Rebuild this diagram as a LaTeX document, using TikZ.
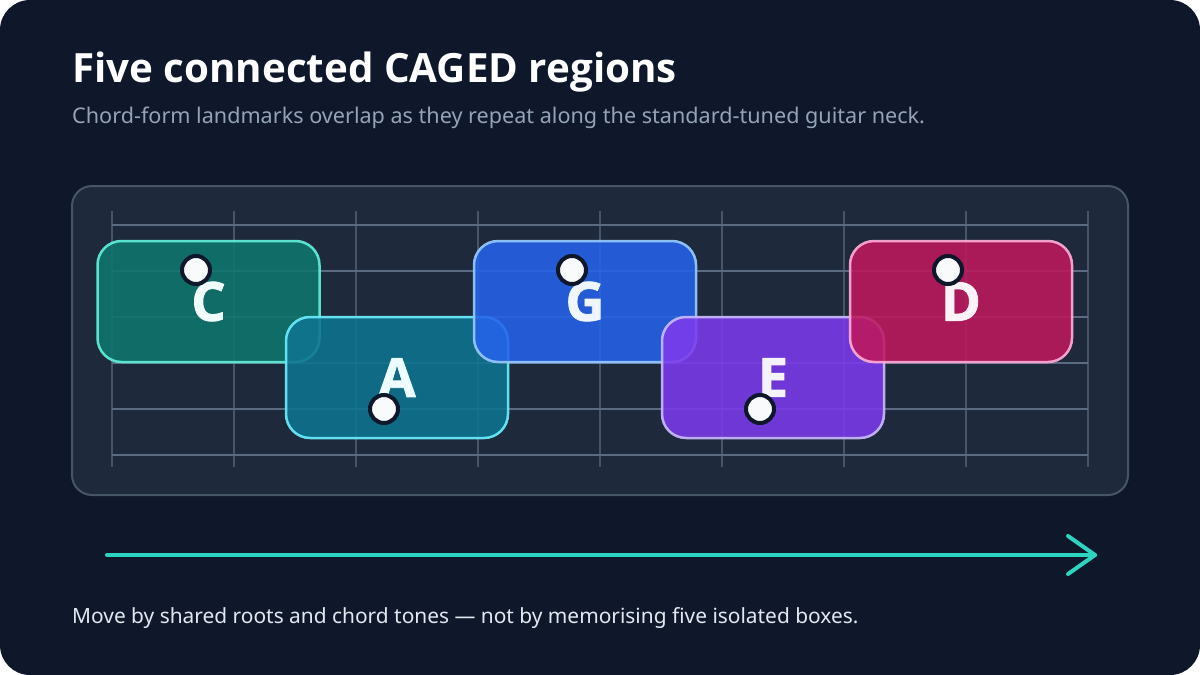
\documentclass[tikz,border=0pt]{standalone}
\usepackage{fontspec}
\setmainfont{Noto Sans}
\newfontfamily\titlefont{Open Sans}
\newfontfamily\letterfont{Open Sans}[BoldFeatures={FakeBold=1.5}]
\definecolor{bgdark}{HTML}{0F172A}
\definecolor{panelfill}{HTML}{1E293B}
\definecolor{panelline}{HTML}{475569}
\definecolor{fretcol}{HTML}{475569}
\definecolor{stringcol}{HTML}{5B6B82}
\definecolor{subcol}{HTML}{94A3B8}
\definecolor{footcol}{HTML}{E2E8F0}
\definecolor{arrowcol}{HTML}{2DD4BF}
\definecolor{dotfill}{HTML}{F8FAFC}
\definecolor{cfill}{HTML}{0F766E}\definecolor{cline}{HTML}{5EEAD4}\definecolor{ctext}{HTML}{F0FDFA}
\definecolor{afill}{HTML}{0E7490}\definecolor{aline}{HTML}{67E8F9}\definecolor{atext}{HTML}{ECFEFF}
\definecolor{gfill}{HTML}{2563EB}\definecolor{gline}{HTML}{93C5FD}\definecolor{gtext}{HTML}{EFF6FF}
\definecolor{efill}{HTML}{7C3AED}\definecolor{eline}{HTML}{C4B5FD}\definecolor{etext}{HTML}{F5F3FF}
\definecolor{dfill}{HTML}{BE185D}\definecolor{dline}{HTML}{F9A8D4}\definecolor{dtext}{HTML}{FDF2F8}
\tikzset{
  cagedbox/.style={rectangle, rounded corners=24pt, minimum width=222pt, minimum height=121pt,
    line width=2.5pt, fill opacity=0.88, draw opacity=0.95, text opacity=1, inner sep=0pt,
    font=\letterfont\fontsize{54}{60}\selectfont\bfseries},
  rootdot/.style={circle, minimum size=28pt, inner sep=0pt, fill=dotfill, draw=bgdark, line width=4pt},
  fretline/.style={draw=fretcol, line width=2pt},
  stringline/.style={draw=stringcol, line width=2.5pt},
  flowarrow/.style={draw=arrowcol, line width=4pt, line cap=round, line join=round},
}
\begin{document}
\begin{tikzpicture}[x=1pt,y=-1pt]
\useasboundingbox (0,0) rectangle (1200,675);
\fill[white] (0,0) rectangle (1200,675);
\fill[bgdark, rounded corners=30pt] (0,0) rectangle (1200,675);

% title and subtitle
\node[anchor=base west, inner sep=0pt, text=white, font=\titlefont\fontsize{40.3}{48}\selectfont\bfseries] (title) at (72,82) {Five connected CAGED regions};
\node[anchor=base west, inner sep=0pt, text=subcol, font=\fontsize{21.6}{26}\selectfont] (subtitle) at (72,123) {Chord-form landmarks overlap as they repeat along the standard-tuned guitar neck.};

% fretboard panel
\draw[fill=panelfill, draw=panelline, line width=2pt, rounded corners=20pt] (72,186) rectangle (1128,495);
\foreach \x in {112,234,356,478,600,722,844,966,1088} \draw[fretline] (\x,211) -- (\x,467);
\foreach \y in {225,271,317,363,409,455} \draw[stringline] (112,\y) -- (1088,\y);

% CAGED regions
\node[cagedbox, fill=cfill, draw=cline, text=ctext] (boxC) at (208.5,301.5) {C};
\node[rootdot] (dotC) at (196,270) {};
\node[cagedbox, fill=afill, draw=aline, text=atext] (boxA) at (397,377.5) {A};
\node[rootdot] (dotA) at (384,409) {};
\node[cagedbox, fill=gfill, draw=gline, text=gtext] (boxG) at (585,301.5) {G};
\node[rootdot] (dotG) at (572,270) {};
\node[cagedbox, fill=efill, draw=eline, text=etext] (boxE) at (773,377.5) {E};
\node[rootdot] (dotE) at (760,409) {};
\node[cagedbox, fill=dfill, draw=dline, text=dtext] (boxD) at (961,301.5) {D};
\node[rootdot] (dotD) at (948,270) {};

% direction arrow
\coordinate (arrS) at (107,555);
\coordinate (arrE) at (1095,555);
\draw[flowarrow] (arrS) -- (arrE);
\draw[flowarrow] (arrE) ++(-27,-19) -- (arrE) -- ++(-27,19);

% footer
\node[anchor=base west, inner sep=0pt, text=footcol, font=\fontsize{20.9}{26}\selectfont] (footer) at (72,623) {Move by shared roots and chord tones — not by memorising five isolated boxes.};
\end{tikzpicture}
\end{document}
